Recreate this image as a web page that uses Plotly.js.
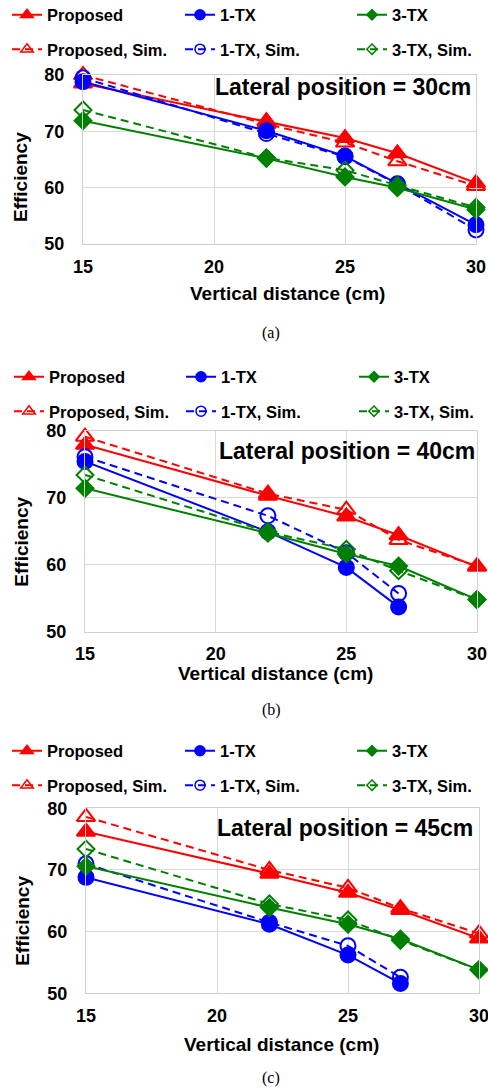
<!DOCTYPE html>
<html><head><meta charset="utf-8">
<script src="https://cdn.plot.ly/plotly-3.0.1.min.js"></script>
<style>html,body{margin:0;padding:0;background:#fff}#chart{width:488px;height:1089px}</style>
</head><body><div id="chart"></div>
<script>
const W = 488, H = 1089;

// ---------- data ----------
const seriesNames = ['Proposed', 'Proposed, Sim.', '1-TX', '1-TX, Sim.', '3-TX', '3-TX, Sim.'];
const panelTitles = ['Lateral position = 30cm', 'Lateral position = 40cm', 'Lateral position = 45cm'];
const captions = ['(a)', '(b)', '(c)'];
const xTitle = 'Vertical distance (cm)';
const yTitle = 'Efficiency';
const xTicks = [15, 20, 25, 30];
const yTicks = [50, 60, 70, 80];

const xFull = [15, 22, 25, 27, 30];
const xShort = [15, 22, 25, 27];

// (a) lateral 30 cm
const propA    = [78.5, 71.8, 68.8, 66.1, 60.8];
const propSimA = [80.0, 71.3, 68.0, 64.7, 60.3];
const tx1A     = [78.8, 70.1, 65.6, 60.7, 53.4];
const tx1SimA  = [79.5, 69.6, 65.5, 60.6, 52.5];
const tx3A     = [71.9, 65.2, 61.9, 60.0, 56.1];
const tx3SimA  = [73.8, 65.3, 63.1, 60.4, 56.5];

// (b) lateral 40 cm
const propB    = [77.9, 70.3, 67.2, 64.4, 59.7];
const propSimB = [79.1, 70.6, 68.2, 63.7, 59.8];
const tx1B     = [75.4, 64.9, 59.6, 53.7];
const tx1SimB  = [76.1, 67.3, 61.8, 55.7];
const tx3B     = [71.4, 64.7, 61.6, 59.8, 54.8];
const tx3SimB  = [73.4, 64.9, 62.3, 59.1, 54.8];

// (c) lateral 45 cm
const propC    = [76.2, 69.4, 66.3, 63.5, 58.9];
const propSimC = [78.6, 70.0, 67.1, 63.8, 59.7];
const tx1C     = [68.8, 61.2, 56.2, 51.6];
const tx1SimC  = [71.0, 61.5, 57.7, 52.6];
const tx3C     = [70.6, 63.9, 61.2, 58.8, 53.8];
const tx3SimC  = [73.4, 64.5, 61.9, 58.6, 53.8];

const panels = [
  {x: [xFull, xFull, xFull, xFull, xFull, xFull], y: [propA, propSimA, tx1A, tx1SimA, tx3A, tx3SimA]},
  {x: [xFull, xFull, xShort, xShort, xFull, xFull], y: [propB, propSimB, tx1B, tx1SimB, tx3B, tx3SimB]},
  {x: [xFull, xFull, xShort, xShort, xFull, xFull], y: [propC, propSimC, tx1C, tx1SimC, tx3C, tx3SimC]}
];

// ---------- styles ----------
const RED = '#ff0000', BLUE = '#0000ff', GREEN = '#008000';
const styles = [
  {color: RED,   symbol: 'triangle-up',      size: 16, lsize: 11, dash: 'solid'},
  {color: RED,   symbol: 'triangle-up-open', size: 16, lsize: 11, dash: '8px,5px'},
  {color: BLUE,  symbol: 'circle',           size: 15, lsize: 10, dash: 'solid'},
  {color: BLUE,  symbol: 'circle-open',      size: 15, lsize: 10, dash: '8px,5px'},
  {color: GREEN, symbol: 'diamond',          size: 13, lsize: 8,  dash: 'solid'},
  {color: GREEN, symbol: 'diamond-open',     size: 13, lsize: 8,  dash: '8px,5px'}
];
// legend columns: each column = measured + simulated
const legendCols = [[0, 1], [2, 3], [4, 5]];

// pixel geometry
const geo = [
  {x0: 83, x1: 476, yTop: 75,    yBot: 244,   legTop: -2.5,  legX: [7, 180, 352], lat: {x: 473, y: 87},    xt: {x: 287, y: 293},  yt: {x: 21, y: 177},   cap: {x: 271, y: 333}},
  {x0: 85, x1: 477, yTop: 430.7, yBot: 631.7, legTop: 359.5, legX: [9, 181, 354], lat: {x: 477, y: 450.7}, xt: {x: 275, y: 673},  yt: {x: 22, y: 541.7}, cap: {x: 271, y: 710}},
  {x0: 86, x1: 479, yTop: 808.3, yBot: 993.3, legTop: 733.5, legX: [7, 180, 352], lat: {x: 475, y: 828.3}, xt: {x: 281, y: 1044}, yt: {x: 23, y: 920.8}, cap: {x: 271, y: 1078}}
];
const px = v => v / W;
const py = v => 1 - v / H;

const FONT = 'Liberation Sans, Arial, sans-serif';
const traces = [];
const layout = {
  width: W, height: H,
  margin: {l: 0, r: 0, t: 0, b: 0, autoexpand: false},
  paper_bgcolor: '#fff', plot_bgcolor: '#fff',
  font: {family: FONT, color: '#000'},
  showlegend: true,
  annotations: []
};

panels.forEach((p, i) => {
  const g = geo[i];
  const sfx = i === 0 ? '' : String(i + 1);
  const xa = 'x' + sfx, ya = 'y' + sfx;
  // data traces
  for (let k = 0; k < 6; k++) {
    const s = styles[k];
    traces.push({
      type: 'scatter', mode: 'lines+markers',
      x: p.x[k], y: p.y[k], xaxis: xa, yaxis: ya,
      name: seriesNames[k], showlegend: false, cliponaxis: false,
      line: {color: s.color, width: 2, dash: s.dash},
      marker: {symbol: s.symbol, size: s.size, color: s.color, line: {color: s.color, width: 2}}
    });
  }
  // legend entries: one vertical legend per column
  legendCols.forEach((col, c) => {
    const idx = i * 3 + c;
    const lname = 'legend' + (idx === 0 ? '' : String(idx + 1));
    col.forEach((k, j) => {
      const s = styles[k];
      traces.push({
        type: 'scatter', mode: 'lines+markers',
        x: [null], y: [null], xaxis: xa, yaxis: ya,
        name: seriesNames[k], legend: lname, legendgroup: 'g' + idx + '_' + j, legendrank: j + 1,
        line: {color: s.color, width: 2, dash: s.dash},
        marker: {symbol: s.symbol, size: s.lsize, color: s.color, line: {color: s.color, width: 1.5}}
      });
    });
    layout[lname] = {
      orientation: 'v', x: px(g.legX[c]), xanchor: 'left', y: py(g.legTop), yanchor: 'top',
      bgcolor: 'rgba(0,0,0,0)', borderwidth: 0, tracegroupgap: 10,
      font: {family: FONT, size: 16.5, weight: 'bold', color: '#000'},
      itemclick: false, itemdoubleclick: false, traceorder: 'grouped'
    };
  });
  layout['xaxis' + sfx] = {
    domain: [px(g.x0), px(g.x1)], anchor: ya, range: [15, 30],
    tickvals: xTicks, ticks: '', ticklabelstandoff: 6, ticklabeloverflow: 'allow',
    tickfont: {family: FONT, size: 18, weight: 'bold', color: '#000'},
    showgrid: true, gridcolor: '#d9d9d9', gridwidth: 1,
    showline: true, linecolor: '#d0d0d0', linewidth: 1, mirror: true, zeroline: false, fixedrange: true
  };
  layout['yaxis' + sfx] = {
    domain: [py(g.yBot), py(g.yTop)], anchor: xa, range: [50, 80],
    tickvals: yTicks, ticks: '', ticklabelstandoff: 14,
    tickfont: {family: FONT, size: 18, weight: 'bold', color: '#000'},
    showgrid: true, gridcolor: '#d9d9d9', gridwidth: 1,
    showline: true, linecolor: '#d0d0d0', linewidth: 1, mirror: true, zeroline: false, fixedrange: true
  };
  layout.annotations.push(
    {text: panelTitles[i], xref: 'paper', yref: 'paper', x: px(g.lat.x), y: py(g.lat.y), xanchor: 'right', yanchor: 'middle',
     showarrow: false, font: {family: FONT, size: 23, weight: 'bold', color: '#000'}},
    {text: xTitle, xref: 'paper', yref: 'paper', x: px(g.xt.x), y: py(g.xt.y), xanchor: 'center', yanchor: 'middle',
     showarrow: false, font: {family: FONT, size: 19, weight: 'bold', color: '#000'}},
    {text: yTitle, xref: 'paper', yref: 'paper', x: px(g.yt.x), y: py(g.yt.y), xanchor: 'center', yanchor: 'middle', textangle: -90,
     showarrow: false, font: {family: FONT, size: 19, weight: 'bold', color: '#000'}},
    {text: captions[i], xref: 'paper', yref: 'paper', x: px(g.cap.x), y: py(g.cap.y), xanchor: 'center', yanchor: 'middle',
     showarrow: false, font: {family: 'Liberation Serif, Times New Roman, serif', size: 16, color: '#000'}}
  );
});

Plotly.newPlot('chart', traces, layout, {displayModeBar: false});
</script>
</body></html>
